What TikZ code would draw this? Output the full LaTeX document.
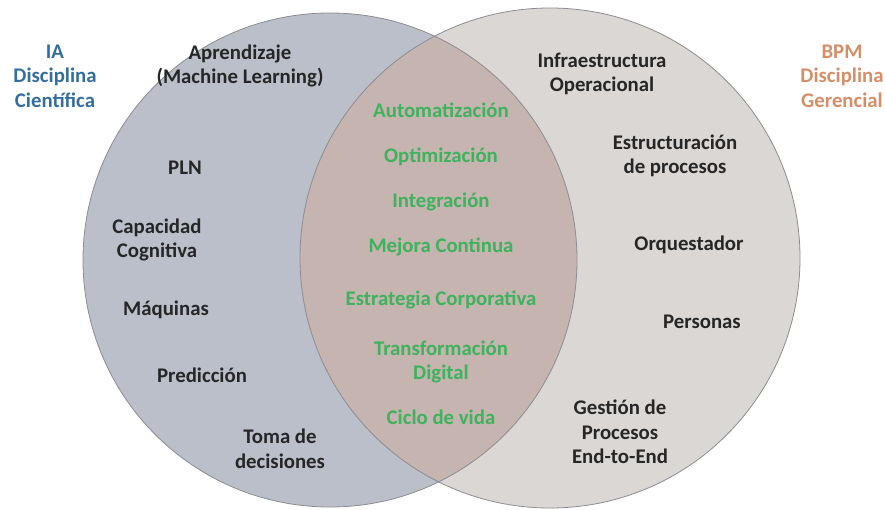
\documentclass[tikz,border=0pt]{standalone}
\usepackage{fontspec}
\setmainfont{Carlito}
\usepackage{tikz}
\usetikzlibrary{positioning}

\definecolor{iafill}{RGB}{186,191,202}
\definecolor{bpmfill}{RGB}{218,215,213}
\definecolor{comunfill}{RGB}{197,180,175}
\definecolor{borde}{RGB}{140,140,146}
\definecolor{verde}{RGB}{62,178,92}
\definecolor{azul}{RGB}{52,110,160}
\definecolor{naranja}{RGB}{214,142,104}

\begin{document}
\begin{tikzpicture}[
        x=1pt,
        y=-1pt,
        font=\fontsize{20.8}{24.5}\selectfont\bfseries,
        conjunto/.style={draw=borde, line width=0.8pt},
        item/.style={align=center, text=black!85, inner sep=1pt},
        comun/.style={align=center, text=verde, inner sep=1pt},
        titulo/.style={align=center, inner sep=1pt}
    ]
        \useasboundingbox (0,0) rectangle (885,510);

        % conjuntos
        \fill[iafill] (330,260) circle[radius=247];
        \fill[bpmfill] (550,258) circle[radius=250];
        \begin{scope}
            \clip (330,260) circle[radius=247];
            \fill[comunfill] (550,258) circle[radius=250];
        \end{scope}
        \draw[conjunto] (330,260) circle[radius=247];
        \draw[conjunto] (550,258) circle[radius=250];

        % titulos
        \node[titulo, text=azul] (ia) at (55,76) {IA\\Disciplina\\Científica};
        \node[titulo, text=naranja] (bpm) at (842,76) {BPM\\Disciplina\\Gerencial};

        % IA
        \node[item] (aprendizaje) at (240,66) {Aprendizaje\\(Machine Learning)};
        \node[item] (pln) at (185,168) {PLN};
        \node[item] (capacidad) at (157,240) {Capacidad\\Cognitiva};
        \node[item] (maquinas) at (166,310) {Máquinas};
        \node[item] (prediccion) at (202,375) {Predicción};
        \node[item] (toma) at (280,449) {Toma de\\decisiones};

        % BPM
        \node[item] (infra) at (602,74) {Infraestructura\\Operacional};
        \node[item] (estructura) at (675,156) {Estructuración\\de procesos};
        \node[item] (orquestador) at (689,245) {Orquestador};
        \node[item] (personas) at (702,322) {Personas};
        \node[item] (gestion) at (620,432) {Gestión de\\Procesos\\End-to-End};

        % interseccion
        \foreach \n/\y/\lab in {auto/110/Automatización, opti/157/Optimización,
            integ/202/Integración, mejora/247/Mejora Continua,
            estrategia/300/Estrategia Corporativa,
            transf/362/{Transformación\\Digital}, ciclo/417/Ciclo de vida} {
            \node[comun] (\n) at (441,\y) {\lab};
        }
    \end{tikzpicture}
\end{document}
